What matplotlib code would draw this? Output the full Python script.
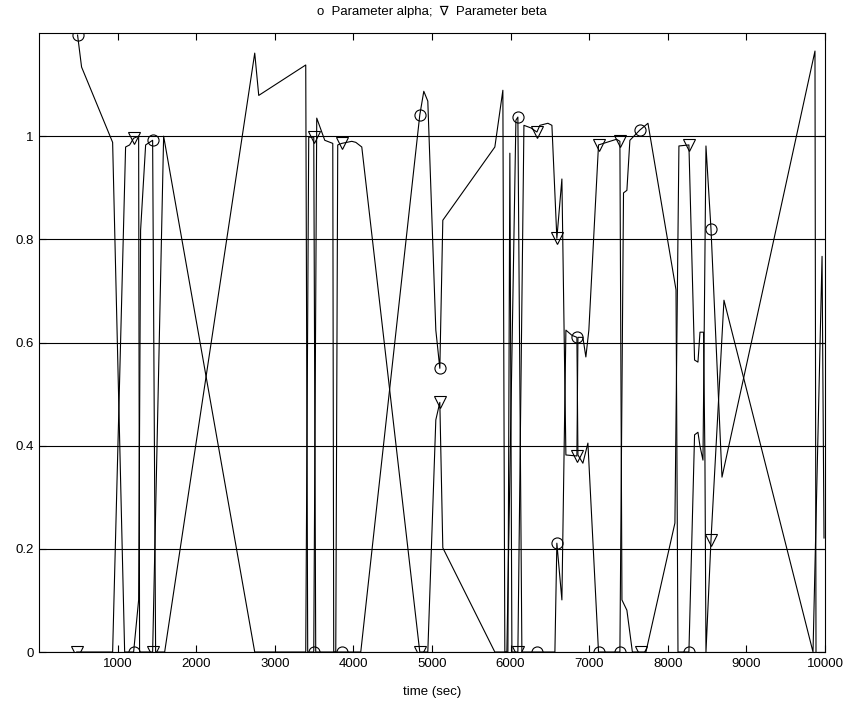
import matplotlib.pyplot as plt
from matplotlib.ticker import FixedLocator

plt.rcParams['font.family'] = ['Liberation Sans', 'DejaVu Sans']

# data (time in sec)
alpha_t = [491, 542, 937, 1090, 1204, 1268, 1293, 1357, 1446, 1484, 1599, 2745, 2796, 3394,
           3419, 3496, 3534, 3636, 3738, 3750, 3852, 4094, 4845, 4896, 4947, 5049, 5100,
           5138, 5800, 5902, 5927, 5953, 6068, 6093, 6144, 6335, 6564, 6589, 6653, 6704,
           6780, 6844, 6857, 6920, 6984, 7119, 7391, 7437, 7480, 7518, 7646, 7748, 8105,
           8130, 8269, 8341, 8384, 8410, 8448, 8486, 8550, 8690, 9873, 9886]
alpha_v = [1.196, 1.134, 0.988, 0.0, 0.0, 0.101, 0.818, 0.983, 0.992, 0.0, 0.0, 1.161, 1.079, 1.138,
           0.0, 0.0, 1.035, 0.992, 0.986, 0.0, 0.0, 0.0, 1.041, 1.087, 1.068, 0.624, 0.550,
           0.837, 0.979, 1.089, 0.0, 0.0, 1.031, 1.037, 0.0, 0.0, 0.0, 0.211, 0.101, 0.624,
           0.614, 0.610, 0.382, 0.366, 0.405, 0.0, 0.0, 0.890, 0.895, 0.992, 1.012, 1.025, 0.702,
           0.0, 0.0, 0.421, 0.426, 0.399, 0.372, 0.981, 0.820, 0.339, 1.165, 0.0]
alpha_marks = [0, 4, 8, 15, 20, 22, 26, 33, 35, 37, 41, 45, 46, 50, 54, 60]

beta_t = [480, 937, 1102, 1153, 1204, 1268, 1280, 1446, 1586, 2745, 3394, 3432, 3496, 3521,
          3776, 3801, 3852, 3980, 4031, 4107, 4845, 4947, 5049, 5100, 5138, 5800, 5966,
          5991, 6017, 6093, 6170, 6259, 6335, 6373, 6475, 6526, 6589, 6653, 6704, 6844,
          6857, 6920, 6958, 6996, 7119, 7348, 7391, 7417, 7480, 7550, 7658, 7722, 8091,
          8142, 8269, 8341, 8384, 8410, 8455, 8473, 8486, 8550, 8715, 9848, 9963, 9988]
beta_v = [0.0, 0.0, 0.979, 0.983, 0.996, 1.0, 0.0, 0.0, 1.0, 0.0, 0.0, 0.998, 0.998, 0.0,
          0.0, 0.983, 0.986, 0.990, 0.988, 0.979, 0.0, 0.0, 0.450, 0.484, 0.202, 0.0, 0.0,
          0.967, 0.0, 0.0, 1.021, 1.016, 1.008, 1.021, 1.025, 1.021, 0.802, 0.917, 0.382, 0.380,
          0.610, 0.610, 0.572, 0.624, 0.983, 0.994, 0.990, 0.101, 0.081, 0.0, 0.0, 0.0, 0.250,
          0.981, 0.983, 0.566, 0.562, 0.620, 0.620, 0.372, 0.0, 0.217, 0.682, 0.0, 0.767, 0.221]
beta_marks = [0, 4, 7, 12, 16, 20, 23, 29, 32, 36, 39, 44, 46, 50, 54, 61]

x_ticks = [1000, 2000, 3000, 4000, 5000, 6000, 7000, 8000, 9000, 10000]
y_ticks = [0, 0.2, 0.4, 0.6, 0.8, 1]
y_labels = ['0', '0.2', '0.4', '0.6', '0.8', '1']

fig = plt.figure(figsize=(8.51, 7.02), dpi=100)
ax = fig.add_axes([0.0458, 0.0712, 0.9236, 0.8818])

ax.plot(alpha_t, alpha_v, color='black', lw=0.8, marker='o', markevery=alpha_marks,
        ms=8, mfc='none', mec='black', mew=0.8)
ax.plot(beta_t, beta_v, color='black', lw=0.8, marker='v', markevery=beta_marks,
        ms=8, mfc='none', mec='black', mew=0.8)

ax.set_xlim(0, 10000)
ax.set_ylim(0, 1.2)
ax.xaxis.set_major_locator(FixedLocator(x_ticks))
ax.set_yticks(y_ticks)
ax.set_yticklabels(y_labels)
ax.tick_params(direction='in', length=5, width=0.8, top=True, right=True,
               labelsize=9.5, pad=4, colors='black')
ax.yaxis.grid(True, color='black', lw=0.8, ls='-')
for s in ax.spines.values():
    s.set_linewidth(0.8)

ax.set_xlabel('time (sec)', fontsize=9.5, labelpad=12)
ax.set_title('o  Parameter alpha;  \u2207  Parameter beta', fontsize=9.5, pad=13)

fig.savefig('out.png', dpi=100)
